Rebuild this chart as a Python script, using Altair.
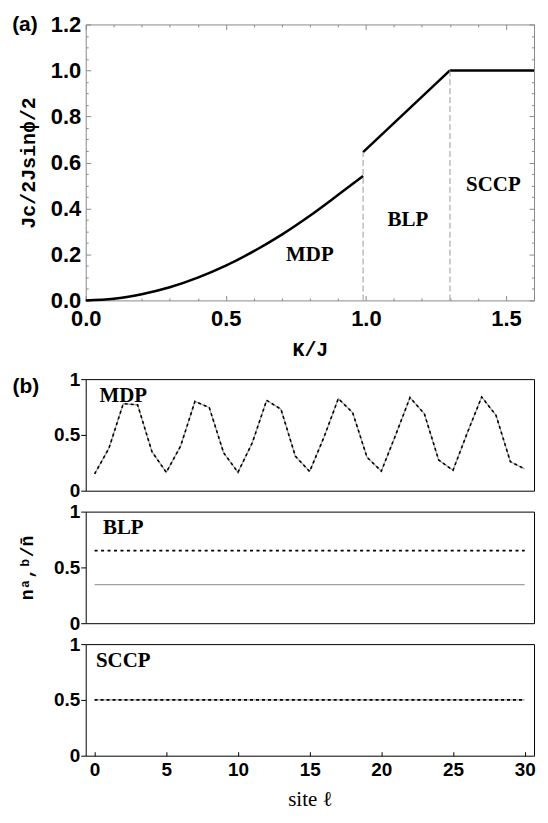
import altair as alt
import pandas as pd

# ---------------- data: panel (a) ----------------
mdp_K = [0.0, 0.1, 0.2, 0.3, 0.4, 0.5, 0.6, 0.7, 0.8, 0.9, 0.99]
mdp_J = [0.0, 0.007, 0.027, 0.057, 0.099, 0.151, 0.214, 0.286, 0.368, 0.458, 0.541]
blp_K = [0.99, 1.3]
blp_J = [0.645, 1.0]
sccp_K = [1.3, 1.6]
sccp_J = [1.0, 1.0]
bound_K = [0.99, 1.3]
bound_top = [0.645, 1.0]
phase_names = ["MDP", "BLP", "SCCP"]
phase_x = [0.80, 1.15, 1.455]
phase_y = [0.196, 0.35, 0.50]
a_xticks = [0.0, 0.5, 1.0, 1.5]
a_xminor = [0.1, 0.2, 0.3, 0.4, 0.6, 0.7, 0.8, 0.9, 1.1, 1.2, 1.3, 1.4, 1.6]
a_yticks = [0.0, 0.2, 0.4, 0.6, 0.8, 1.0, 1.2]
a_yminor = [0.05, 0.1, 0.15, 0.25, 0.3, 0.35, 0.45, 0.5, 0.55, 0.65, 0.7, 0.75,
            0.85, 0.9, 0.95, 1.05, 1.1, 1.15]

# ---------------- data: panel (b) ----------------
sites = list(range(31))
mdp_n = [0.15, 0.38, 0.78, 0.77, 0.35, 0.165, 0.40, 0.80, 0.745, 0.34,
         0.165, 0.43, 0.81, 0.73, 0.31, 0.172, 0.48, 0.825, 0.70, 0.30,
         0.175, 0.50, 0.835, 0.69, 0.275, 0.183, 0.52, 0.84, 0.675, 0.26, 0.195]
blp_na = [0.65] * len(sites)
blp_nb = [0.345] * len(sites)
sccp_n = [0.5] * len(sites)
b_xticks = [0, 5, 10, 15, 20, 25, 30]
b_yticks = [0, 0.5, 1]

GRAY = "#8a8a8a"
W, HA, HB = 450, 277, 112
SANS = "Liberation Sans"
SERIF = "Liberation Serif"
MONO = "Liberation Mono"

# ---------------- panel (a) ----------------
curve_df = pd.DataFrame({
    "K": mdp_K + blp_K + sccp_K,
    "J": mdp_J + blp_J + sccp_J,
    "seg": ["MDP"] * len(mdp_K) + ["BLP"] * len(blp_K) + ["SCCP"] * len(sccp_K),
})
xs_a = alt.Scale(domain=[0, 1.6], nice=False, zero=False)
ys_a = alt.Scale(domain=[0, 1.2], nice=False)


def frame_axis(orient, values, size):
    return alt.Axis(orient=orient, values=values, tickSize=size, offset=-size,
                    labels=False, domain=False, grid=False, title=None,
                    tickColor=GRAY, tickWidth=1)


curve = alt.Chart(curve_df).mark_line(color="black", strokeWidth=2.5, interpolate="monotone").encode(
    x=alt.X("K:Q", scale=xs_a, axis=alt.Axis(
        orient="bottom", values=a_xticks, format=".1f", tickSize=5, offset=-5,
        domain=False, grid=False, tickColor=GRAY, tickWidth=1, labelFlush=False,
        labelFont=SANS, labelFontWeight="bold", labelFontSize=22, labelColor="black",
        labelPadding=8, title="K/J", titleFont=MONO, titleFontWeight="bold",
        titleFontSize=20, titlePadding=10, titleColor="black")),
    y=alt.Y("J:Q", scale=ys_a, axis=alt.Axis(
        orient="left", values=a_yticks, format=".1f", tickSize=5, offset=-5,
        domain=False, grid=False, tickColor=GRAY, tickWidth=1, labelFlush=False,
        labelFont=SANS, labelFontWeight="bold", labelFontSize=22, labelColor="black",
        labelPadding=5, title="Jc/2Jsinϕ/2", titleFont=MONO, titleFontWeight="bold",
        titleFontSize=20, titlePadding=12, titleColor="black")),
    detail="seg:N",
)

frame_major = alt.Chart(curve_df).mark_line(strokeOpacity=0).encode(
    x=alt.X("K:Q", scale=xs_a, axis=frame_axis("top", a_xticks, 5)),
    y=alt.Y("J:Q", scale=ys_a, axis=frame_axis("right", a_yticks, 5)),
    detail="seg:N",
)
frame_minor1 = alt.Chart(curve_df).mark_line(strokeOpacity=0).encode(
    x=alt.X("K:Q", scale=xs_a, axis=frame_axis("bottom", a_xminor, 2.5)),
    y=alt.Y("J:Q", scale=ys_a, axis=frame_axis("left", a_yminor, 2.5)),
    detail="seg:N",
)
frame_minor2 = alt.Chart(curve_df).mark_line(strokeOpacity=0).encode(
    x=alt.X("K:Q", scale=xs_a, axis=frame_axis("top", a_xminor, 2.5)),
    y=alt.Y("J:Q", scale=ys_a, axis=frame_axis("right", a_yminor, 2.5)),
    detail="seg:N",
)

bound_df = pd.DataFrame({"K": bound_K, "top": bound_top, "base": [0.0] * len(bound_K)})
bounds = alt.Chart(bound_df).mark_rule(color="#9a9a9a", strokeDash=[6, 3], strokeWidth=1).encode(
    x=alt.X("K:Q", scale=xs_a, axis=None),
    y=alt.Y("base:Q", scale=ys_a, axis=None),
    y2="top:Q",
)

phase_df = pd.DataFrame({"name": phase_names, "x": phase_x, "y": phase_y})
phase_txt = alt.Chart(phase_df).mark_text(font=SERIF, fontWeight="bold", fontSize=21, color="black").encode(
    x=alt.X("x:Q", scale=xs_a, axis=None),
    y=alt.Y("y:Q", scale=ys_a, axis=None),
    text="name:N",
)

tag_a = alt.Chart(pd.DataFrame({"t": ["(a)"]})).mark_text(
    font=SANS, fontWeight="bold", fontSize=21, color="black", align="center", baseline="middle"
).encode(text="t:N", x=alt.value(-61), y=alt.value(1))

panel_a = alt.layer(curve, frame_major, frame_minor1, frame_minor2, bounds, phase_txt, tag_a).resolve_axis(
    x="independent", y="independent"
).properties(width=W, height=HA, view=alt.ViewBackground(stroke=GRAY, strokeWidth=1))

# ---------------- panel (b) ----------------
xs_b = alt.Scale(domain=[-0.62, 30.65], nice=False, zero=False)
ys_b = alt.Scale(domain=[0, 1], nice=False)


def y_axis_b(title=None):
    kw = dict(orient="left", values=b_yticks, format="~g", tickSize=5, domain=False, grid=False,
              tickColor="black", labelFont=SANS, labelFontWeight="bold", labelFontSize=19,
              labelColor="black", labelPadding=1, labelFlush=False)
    if title is None:
        return alt.Axis(title=None, **kw)
    return alt.Axis(title=title, titleFont=MONO, titleFontWeight="bold", titleFontSize=18,
                    titlePadding=17, titleColor="black", **kw)


def x_axis_b(show):
    if not show:
        return None
    return alt.Axis(orient="bottom", values=b_xticks, format="d", tickSize=4, offset=-4,
                    domain=False, grid=False, tickColor="black", labelFlush=False,
                    labelFont=SANS, labelFontWeight="bold", labelFontSize=19, labelColor="black",
                    labelPadding=5, title="site ℓ", titleFont=SERIF, titleFontWeight="normal",
                    titleFontSize=21, titlePadding=9, titleColor="black")


def b_panel(na, nb, dash, label, title=None, show_x=False, tag=None):
    df = pd.DataFrame({"site": sites, "na": na, "nb": nb})
    xaxis = x_axis_b(show_x)
    gray = alt.Chart(df).mark_line(color="#a0a0a0", strokeWidth=1.2).encode(
        x=alt.X("site:Q", scale=xs_b, axis=xaxis),
        y=alt.Y("nb:Q", scale=ys_b, axis=y_axis_b(title)),
    )
    black = alt.Chart(df).mark_line(color="black", strokeWidth=1.6, strokeDash=dash).encode(
        x=alt.X("site:Q", scale=xs_b, axis=xaxis),
        y=alt.Y("na:Q", scale=ys_b, axis=y_axis_b(title)),
    )
    lab = alt.Chart(pd.DataFrame({"name": [label], "x": [2.0], "y": [0.85]})).mark_text(
        font=SERIF, fontWeight="bold", fontSize=21, color="black"
    ).encode(x=alt.X("x:Q", scale=xs_b), y=alt.Y("y:Q", scale=ys_b), text="name:N")
    layers = [gray, black, lab]
    if tag is not None:
        layers.append(alt.Chart(pd.DataFrame({"t": [tag]})).mark_text(
            font=SANS, fontWeight="bold", fontSize=21, color="black", align="center", baseline="middle"
        ).encode(text="t:N", x=alt.value(-60), y=alt.value(8)))
    return alt.layer(*layers).properties(
        width=W, height=HB, view=alt.ViewBackground(stroke="black", strokeWidth=1))


b1 = b_panel(mdp_n, mdp_n, [3, 3], "MDP", tag="(b)")
b2 = b_panel(blp_na, blp_nb, [3, 3.5], "BLP", title="nᵃ,ᵇ/n\u0304")
b3 = b_panel(sccp_n, sccp_n, [3, 3], "SCCP", show_x=True)

panel_b = alt.vconcat(b1, b2, b3, spacing=21, bounds="flush")

chart = alt.vconcat(panel_a, panel_b, spacing=79, bounds="flush").properties(
    padding={"left": 3, "top": 3, "right": 0, "bottom": 0}
).configure(background="white")

chart.save("out.html", embed_options={"renderer": "svg", "actions": False})
